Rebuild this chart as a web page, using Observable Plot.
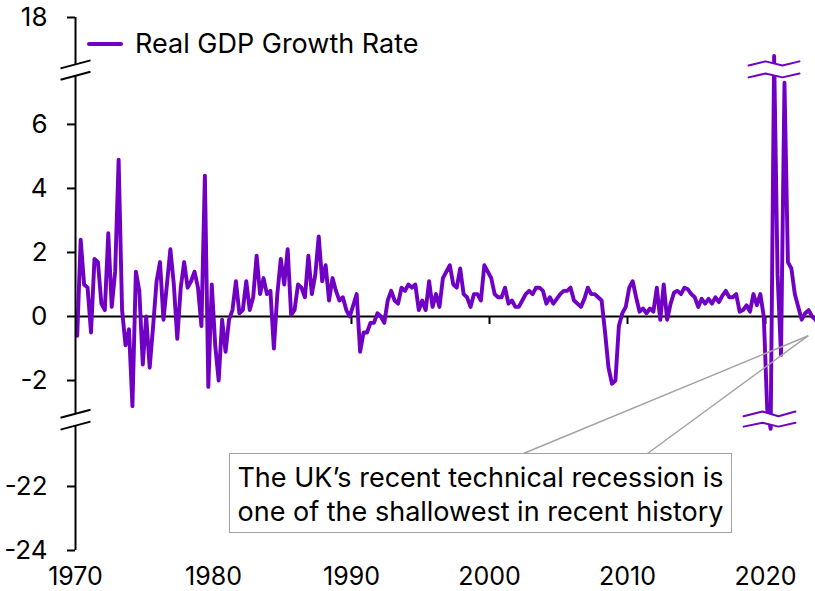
<!DOCTYPE html>
<html>
<head>
<meta charset="utf-8">
<script src="https://cdn.jsdelivr.net/npm/d3@7"></script>
<script src="https://cdn.jsdelivr.net/npm/@observablehq/plot@0.6"></script>
<style>
  html, body { margin: 0; padding: 0; background: #fff; }
  body { font-family: Inter, Roboto, sans-serif; color: #000; }
  #wrap { position: relative; width: 815px; height: 591px; overflow: hidden; }
  #legend { position: absolute; left: 87px; top: 27px; height: 34px; display: flex; align-items: center; font-size: 27px; line-height: 34px; white-space: nowrap; }
  #legend .sw { width: 36px; height: 3.8px; border-radius: 2px; margin-right: 12px; }
  #note { position: absolute; left: 229px; top: 453px; width: 503px; height: 80px; box-sizing: border-box;
          border: 1.5px solid #a3a3a3; background: #fff; text-align: center; font-size: 27px; line-height: 34px; padding-top: 7px; white-space: nowrap; }
</style>
</head>
<body>
<div id="wrap"></div>
<script>
// ---------------- data ----------------
const startYear = 1970;               // first quarter: 1970 Q1
// Quarterly real GDP growth, % q/q (one row per year, Q1..Q4)
const growth = [
  -0.6, 2.4, 1.0, 0.9,    // 1970
  -0.5, 1.8, 1.7, 0.4,    // 1971
   0.2, 2.6, 0.3, 1.4,    // 1972
   4.9, 0.2, -0.9, -0.4,  // 1973
  -2.8, 1.4, 0.8, -1.5,   // 1974
   0.0, -1.6, -0.3, 1.1,  // 1975
   1.7, -0.1, 1.0, 2.1,   // 1976
   1.0, -0.7, 0.9, 1.7,   // 1977
   0.9, 1.1, 1.4, 0.9,    // 1978
  -0.3, 4.4, -2.2, 1.0,   // 1979
  -0.9, -2.0, -0.1, -1.1, // 1980
  -0.1, 0.2, 1.1, 0.1,    // 1981
   0.2, 1.1, 0.2, 0.6,    // 1982
   1.9, 0.7, 1.2, 0.7,    // 1983
   0.8, -1.0, 0.7, 1.8,   // 1984
   1.0, 2.1, 0.05, 0.2,   // 1985
   1.0, 0.9, 0.6, 1.9,    // 1986
   0.7, 1.3, 2.5, 1.1,    // 1987
   1.6, 0.5, 1.2, 0.8,    // 1988
   0.5, 0.6, 0.2, 0.0,    // 1989
   0.35, 0.7, -1.1, -0.5, // 1990
  -0.5, -0.2, -0.2, 0.1,  // 1991
   0.0, -0.2, 0.5, 0.8,   // 1992
   0.5, 0.4, 0.9, 0.8,    // 1993
   1.0, 0.9, 1.0, 0.2,    // 1994
   0.5, 0.2, 1.1, 0.3,    // 1995
   0.7, 0.3, 1.2, 1.4,    // 1996
   1.6, 1.0, 0.9, 1.5,    // 1997
   0.7, 0.6, 0.3, 0.7,    // 1998
   0.7, 0.5, 1.6, 1.4,    // 1999
   1.2, 0.7, 0.6, 0.6,    // 2000
   0.9, 0.4, 0.5, 0.3,    // 2001
   0.3, 0.5, 0.7, 0.8,    // 2002
   0.7, 0.9, 0.9, 0.8,    // 2003
   0.4, 0.6, 0.4, 0.55,   // 2004
   0.7, 0.8, 0.8, 0.9,    // 2005
   0.5, 0.4, 0.3, 0.55,   // 2006
   0.9, 0.7, 0.7, 0.6,    // 2007
   0.5, -0.5, -1.6, -2.1, // 2008
  -2.0, -0.3, 0.1, 0.3,   // 2009
   0.9, 1.1, 0.6, 0.15,   // 2010
   0.25, 0.1, 0.25, 0.15, // 2011
   0.9, -0.1, 1.0, -0.1,  // 2012
   0.4, 0.75, 0.8, 0.7,   // 2013
   0.9, 0.85, 0.7, 0.6,   // 2014
   0.3, 0.55, 0.4, 0.55,  // 2015
   0.4, 0.6, 0.45, 0.65,  // 2016
   0.8, 0.6, 0.6, 0.7,    // 2017
   0.15, 0.2, 0.35, 0.15, // 2018
   0.7, 0.35, 0.7, 0.0,   // 2019
  -2.9, -20.2, 16.8, 1.3, // 2020
  -1.2, 7.3, 1.7, 1.5,    // 2021
   0.7, 0.3, -0.1, 0.1,   // 2022
   0.2, 0.0, -0.1, -0.3   // 2023
];
const seriesName = "Real GDP Growth Rate";
const yTickValues = [18, 6, 4, 2, 0, -2, -22, -24];
const xTickValues = [1970, 1980, 1990, 2000, 2010, 2020];
const zeroTickYears = [1980, 1990, 2000, 2010, 2020];
const noteLines = ["The UK\u2019s recent technical recession is", "one of the shallowest in recent history"];
const notePoint = {x: 2023.1, y: -0.6};          // where the callout points
const noteBaseX = [2002.46, 2011.45];            // callout feet on the box top edge

// ---------------- broken y axis (three segments) ----------------
const upperShift = -8.66;   // upper segment (around 18)
const lowerShift = 16.69;   // lower segment (around -22)
const pos = v => v > 12 ? v + upperShift : v < -10 ? v + lowerShift : v;
const axisSegments = [[pos(18), 7.875], [7.52, -3.04], [-3.41, pos(-24)]];
const axisBreaks = [7.875, 7.52, -3.04, -3.41];
// zig-zag break marks over the COVID spikes (x in years, y in axis position units)
const zigTopX = [2018.77, 2020.0, 2021.23, 2022.46];
const zigTopA = [7.84, 7.97, 7.84, 7.97];
const zigTopB = [7.47, 7.59, 7.47, 7.59];
const zigBotX = [2018.41, 2019.78, 2020.94, 2022.17];
const zigBotA = [-3.116, -2.97, -3.116, -2.97];
const zigBotB = [-3.44, -3.32, -3.44, -3.32];

const purple = "#7000c4";
const rows = growth.map((v, i) => ({t: startYear + i / 4 + 0.125, v, p: pos(v)}));
const tickLabel = new Map(yTickValues.map(v => [pos(v), String(v)]));
const zig = (X, A, B) => X.map((x, i) => ({x, a: A[i], b: B[i]}));
const zTop = zig(zigTopX, zigTopA, zigTopB), zBot = zig(zigBotX, zigBotA, zigBotB);
const halfW = 15 / 13.8, halfH = 0.125;

const chart = Plot.plot({
  width: 815, height: 591,
  marginLeft: 75, marginRight: 0, marginTop: 17, marginBottom: 41,
  style: {fontFamily: "Inter, Roboto, sans-serif", color: "#000", background: "#fff"},
  x: {domain: [1970, 1970 + 740 / 13.8]},
  y: {domain: [pos(-24), pos(18)]},
  marks: [
    Plot.ruleY([0], {stroke: "#000", strokeWidth: 2}),
    Plot.ruleX(zeroTickYears, {x: d => d, y1: 0, y2: 0, insetBottom: -8, stroke: "#000", strokeWidth: 2}),
    Plot.line(rows, {x: "t", y: "p", stroke: purple, strokeWidth: 3.9, clip: true}),
    Plot.areaY(zTop, {x: "x", y1: "a", y2: "b", fill: "#fff"}),
    Plot.areaY(zBot, {x: "x", y1: "a", y2: "b", fill: "#fff"}),
    Plot.line(zTop, {x: "x", y: "a", stroke: purple, strokeWidth: 2}),
    Plot.line(zTop, {x: "x", y: "b", stroke: purple, strokeWidth: 2}),
    Plot.line(zBot, {x: "x", y: "a", stroke: purple, strokeWidth: 2}),
    Plot.line(zBot, {x: "x", y: "b", stroke: purple, strokeWidth: 2}),
    Plot.ruleX(axisSegments, {x: () => 1970, y1: d => d[0], y2: d => d[1], stroke: "#000", strokeWidth: 2}),
    Plot.link(axisBreaks, {x1: 1970 - halfW, x2: 1970 + halfW, y1: d => d - halfH, y2: d => d + halfH, stroke: "#000", strokeWidth: 2}),
    Plot.axisY(yTickValues.map(pos), {anchor: "left", tickSize: 8, tickPadding: 20, fontSize: 26, fontVariant: "normal", strokeWidth: 2,
      tickFormat: d => tickLabel.get(d)}),
    Plot.axisX(xTickValues, {anchor: "bottom", tickSize: 0, tickPadding: 17, fontSize: 25, fontVariant: "normal", tickFormat: d => String(d)}),
    Plot.link(noteBaseX, {x1: notePoint.x, y1: notePoint.y, x2: d => d, y2: -4.28, stroke: "#a3a3a3", strokeWidth: 1.5})
  ]
});

const wrap = document.getElementById("wrap");
wrap.appendChild(chart);

const legend = document.createElement("div");
legend.id = "legend";
legend.innerHTML = `<span class="sw" style="background:${purple}"></span><span></span>`;
legend.lastChild.textContent = seriesName;
wrap.appendChild(legend);

const note = document.createElement("div");
note.id = "note";
noteLines.forEach((l, i) => { if (i) note.appendChild(document.createElement("br")); note.appendChild(document.createTextNode(l)); });
wrap.appendChild(note);
</script>
</body>
</html>
